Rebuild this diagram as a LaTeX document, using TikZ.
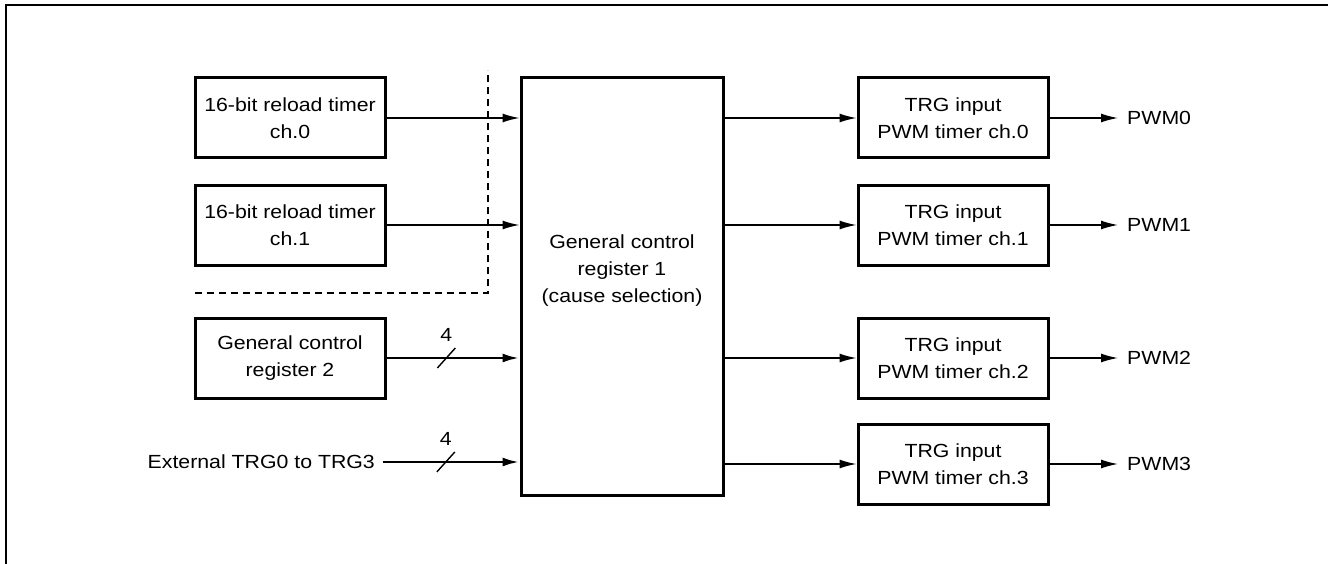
\documentclass[tikz,border=0pt]{standalone}
\usepackage{fontspec}
\setmainfont[FakeStretch=1.12]{Liberation Sans}
\usetikzlibrary{arrows.meta,positioning,calc}
\tikzset{
 box/.style={draw,line width=3pt,align=center,font=\fontsize{19}{27}\selectfont,minimum width=190pt,minimum height=80pt,inner sep=0pt},
 lbl/.style={font=\fontsize{19}{27}\selectfont,inner sep=4pt},
 arr/.style={-{Latex[length=17pt,width=9pt]},line width=1.5pt},
 bus/.style={arr,line width=2.8pt},
 sel/.style={line width=1.6pt,dash pattern=on 7pt off 5pt}
}
\begin{document}
\begin{tikzpicture}[x=1pt,y=-1pt]
\useasboundingbox (0,0) rectangle (1329,564);
\draw[line width=1.6pt] (6,564) -- (6,5) -- (1328,5);
% trigger sources
\node[box] (rt0) at (290,118) {16-bit reload timer\\ch.0};
\node[box] (rt1) at (290,225) {16-bit reload timer\\ch.1};
\node[box] (gcr2) at (290,358) {General control\\register 2};
\node[lbl,anchor=east,inner xsep=8pt] (ext) at (383,462) {External TRG0 to TRG3};
\draw[sel] (195,293) -- (488,293) -- (488,70);
% cause selection
\node[box,minimum width=202pt,minimum height=417pt] (gcr1) at (622,286.5) {};
\node[lbl,align=center] (gcr1t) at (622,271) {General control\\register 1\\(cause selection)};
\draw[arr] (rt0.east) -- (rt0.east -| gcr1.west);
\draw[arr] (rt1.east) -- (rt1.east -| gcr1.west);
\draw[bus] (gcr2.east) -- coordinate[pos=.45] (b2) (gcr2.east -| gcr1.west);
\draw[bus] (ext.east) -- coordinate[pos=.46] (b3) (ext.east -| gcr1.west);
\foreach \b in {b2,b3} {
 \draw[line width=1.4pt] ([shift={(-9,10)}]\b) -- ([shift={(9,-10)}]\b);
 \node[lbl] at ([yshift=23pt]\b) {4};
}
% PWM timers
\foreach \i/\y in {0/118,1/225,2/358,3/464} {
 \node[box] (pt\i) at (953,\y) {TRG input\\PWM timer ch.\i};
 \node[lbl,anchor=west,inner xsep=9pt] (pwm\i) at (1118,\y) {PWM\i};
 \draw[arr] (gcr1.east |- pt\i.west) -- (pt\i.west);
 \draw[arr] (pt\i.east) -- (pwm\i.west);
}
\end{tikzpicture}
\end{document}
